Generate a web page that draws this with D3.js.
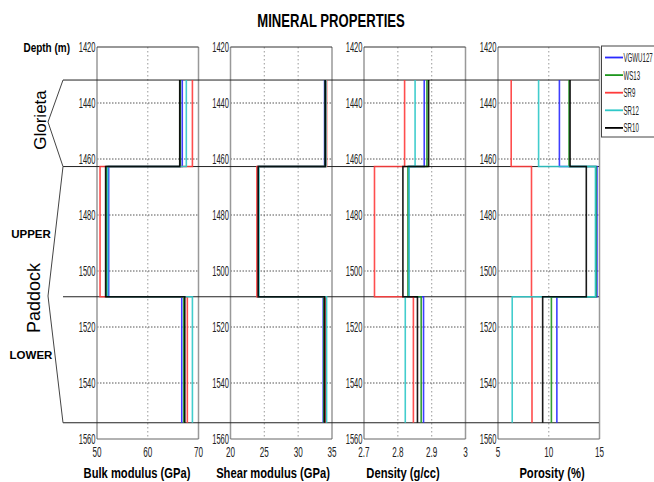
<!DOCTYPE html>
<html><head><meta charset="utf-8">
<script src="https://cdn.jsdelivr.net/npm/d3@7"></script>
<style>
body{margin:0;background:#fff;}
svg{display:block;}
text{font-family:"Liberation Sans",Arial,sans-serif;}
</style></head>
<body><svg id="c" width="654" height="482"></svg>
<script>
// ---- data ----
const seriesNames = ["VGWU127", "WS13", "SR9", "SR12", "SR10"];
const seriesColors = ["#2a2aff", "#1e961e", "#ff3b3b", "#2ec8c8", "#000000"];
const zoneNames = ["Glorieta", "Upper Paddock", "Lower Paddock"];
const zoneBounds = [1431.8, 1462.7, 1509.2, 1554.2];
const depthTicks = [1420, 1440, 1460, 1480, 1500, 1520, 1540, 1560];
// values per series: [Glorieta, Upper Paddock, Lower Paddock]
const bulkModulus = [[66.8, 52.3, 66.7], [66.4, 51.9, 67.1], [68.8, 50.6, 67.8], [67.6, 52.1, 68.8], [66.3, 51.7, 67.3]];
const shearModulus = [[33.9, 24.1, 33.7], [34.0, 24.1, 33.8], [34.2, 23.9, 34.0], [34.1, 24.2, 34.2], [34.0, 24.1, 33.9]];
const density = [[2.878, 2.832, 2.876], [2.886, 2.830, 2.869], [2.820, 2.731, 2.846], [2.851, 2.833, 2.822], [2.891, 2.815, 2.858]];
const porosity = [[11.05, 14.75, 10.8], [12.0, 14.65, 10.26], [6.3, 8.3, 8.35], [9.0, 14.6, 6.4], [12.1, 13.7, 9.4]];
const bulkTicks = [50, 60, 70];
const shearTicks = [20, 25, 30, 35];
const densityTicks = [2.7, 2.8, 2.9, 3];
const porosityTicks = [5, 10, 15];

// ---- layout ----
const svg = d3.select("#c");
const yTop = 47, yBot = 439, pw = 101.5;
const y = d3.scaleLinear().domain([1420, 1560]).range([yTop, yBot]);
const panels = [
  {left: 97, domain: [50, 70], ticks: bulkTicks, data: bulkModulus, title: "Bulk modulus (GPa)", tx: 137},
  {left: 230.5, domain: [20, 35], ticks: shearTicks, data: shearModulus, title: "Shear modulus (GPa)", tx: 273},
  {left: 364, domain: [2.7, 3], ticks: densityTicks, data: density, title: "Density (g/cc)", tx: 403},
  {left: 498, domain: [5, 15], ticks: porosityTicks, data: porosity, title: "Porosity (%)", tx: 552}
];

// condensed text helper
function ctext(parent, x, yy, str, sx, size, anchor, bold, fill) {
  const g = parent.append("g").attr("transform", `translate(${x},${yy}) scale(${sx},1)`);
  const t = g.append("text").attr("x", 0).attr("y", 0).attr("text-anchor", anchor || "start")
    .attr("font-size", size).attr("fill", fill || "#000").text(str);
  if (bold) t.attr("font-weight", "bold");
  return t;
}

ctext(svg, 331, 27, "MINERAL PROPERTIES", 0.69, 19, "middle", true);
ctext(svg, 70, 52, "Depth (m)", 0.74, 13.5, "end", true);

panels.forEach(p => {
  const x = d3.scaleLinear().domain(p.domain).range([p.left, p.left + pw]);
  const g = svg.append("g");
  // vertical grid
  p.ticks.slice(1, -1).forEach(t => {
    g.append("line").attr("x1", x(t)).attr("x2", x(t)).attr("y1", yTop).attr("y2", yBot)
      .attr("stroke", "#aaa").attr("stroke-width", 1.2).attr("stroke-dasharray", "1.5,2.5");
  });
  // horizontal grid
  depthTicks.slice(1, -1).forEach(t => {
    g.append("line").attr("x1", p.left).attr("x2", p.left + pw).attr("y1", y(t)).attr("y2", y(t))
      .attr("stroke", "#555").attr("stroke-width", 1).attr("stroke-dasharray", "1.5,1.5");
  });
  // frame
  g.append("line").attr("x1", p.left).attr("x2", p.left).attr("y1", yTop).attr("y2", yBot).attr("stroke", "#999").attr("stroke-width", 1.5);
  g.append("line").attr("x1", p.left + pw).attr("x2", p.left + pw).attr("y1", yTop).attr("y2", yBot).attr("stroke", "#999").attr("stroke-width", 1.5);
  g.append("line").attr("x1", p.left).attr("x2", p.left + pw).attr("y1", yTop).attr("y2", yTop).attr("stroke", "#333").attr("stroke-width", 1.2);
  g.append("line").attr("x1", p.left).attr("x2", p.left + pw).attr("y1", yBot).attr("y2", yBot).attr("stroke", "#666").attr("stroke-width", 1.2);
  // y tick labels
  depthTicks.forEach(t => {
    ctext(g, p.left - 1.5, y(t) + 5, t, 0.54, 14, "end", false, "#222");
  });
  // x tick labels
  p.ticks.forEach(t => {
    ctext(g, x(t), 457, t, 0.56, 14.5, "middle", false, "#222");
  });
  ctext(g, p.tx, 478, p.title, 0.8, 14, "middle", true);
  p.x = x;
});

// zone boundary lines across figure
zoneBounds.forEach(d => {
  svg.append("line").attr("x1", 63).attr("x2", 599).attr("y1", y(d)).attr("y2", y(d))
    .attr("stroke", "#222").attr("stroke-width", 1);
});

// step lines
panels.forEach(p => {
  const line = d3.line().x(d => p.x(d[0])).y(d => y(d[1]));
  p.data.forEach((vals, i) => {
    const pts = [];
    vals.forEach((v, k) => { pts.push([v, zoneBounds[k]]); pts.push([v, zoneBounds[k + 1]]); });
    svg.append("path").attr("d", line(pts)).attr("fill", "none")
      .attr("stroke", seriesColors[i]).attr("stroke-width", 1.6).attr("opacity", 0.9);
  });
});

// left brackets
const br = d3.line();
svg.append("path").attr("d", br([[63, y(zoneBounds[0])], [48, 122], [63, y(zoneBounds[1])]]))
  .attr("fill", "none").attr("stroke", "#444").attr("stroke-width", 1);
svg.append("path").attr("d", br([[63, y(zoneBounds[1])], [48, 296], [63, y(zoneBounds[3])]]))
  .attr("fill", "none").attr("stroke", "#444").attr("stroke-width", 1);
svg.append("text").attr("transform", "translate(46,120) rotate(-90)").attr("text-anchor", "middle")
  .attr("font-size", 17).text("Glorieta");
svg.append("text").attr("transform", "translate(40,298) rotate(-90)").attr("text-anchor", "middle")
  .attr("font-size", 18).text("Paddock");
svg.append("text").attr("x", 31).attr("y", 238).attr("text-anchor", "middle")
  .attr("font-size", 11.5).attr("font-weight", "bold").text("UPPER");
svg.append("text").attr("x", 31).attr("y", 359).attr("text-anchor", "middle")
  .attr("font-size", 11.5).attr("font-weight", "bold").text("LOWER");

// legend
const lg = svg.append("g");
lg.append("rect").attr("x", 601.5).attr("y", 46).attr("width", 60).attr("height", 91)
  .attr("fill", "#fff").attr("stroke", "#444").attr("stroke-width", 1);
seriesNames.forEach((s, i) => {
  const ly = 57.5 + i * 17.6;
  lg.append("line").attr("x1", 605).attr("x2", 623).attr("y1", ly).attr("y2", ly)
    .attr("stroke", seriesColors[i]).attr("stroke-width", 1.8);
  ctext(lg, 623.5, ly + 4.5, s, 0.51, 12, "start", false, "#222");
});
</script></body></html>
